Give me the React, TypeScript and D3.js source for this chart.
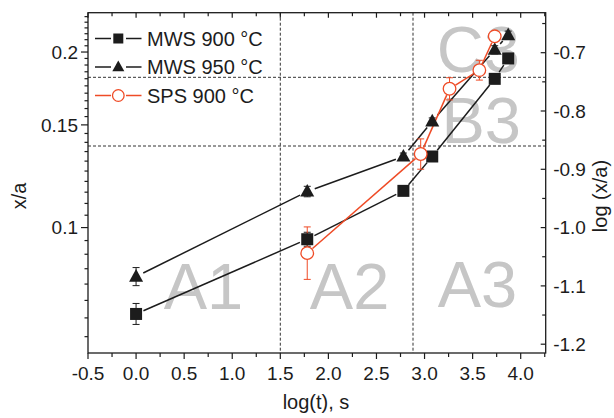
import React from "react";
import * as d3 from "d3";

// ---- data ----
const mws900X = [0, 1.78, 2.78, 3.08, 3.73, 3.87];
const mws900Y = [0.0711, 0.0955, 0.1156, 0.1324, 0.1799, 0.195];
const mws900Err = [0.018, 0.012, 0.005, 0.005, 0.005, 0.005]; // in log units

const mws950X = [0, 1.78, 2.78, 3.08, 3.73, 3.87];
const mws950Y = [0.0824, 0.1153, 0.1324, 0.1521, 0.2018, 0.2138];
const mws950Err = [0.0155, 0.009, 0.006, 0.006, 0.007, 0.007];

const spsX = [1.78, 2.96, 3.26, 3.57, 3.73];
const spsY = [0.0904, 0.1337, 0.173, 0.1862, 0.2128];
const spsErr = [0.045, 0.026, 0.019, 0.017, 0.007];

const legendLabels = ["MWS 900 \u00B0C", "MWS 950 \u00B0C", "SPS 900 \u00B0C"];

const xMajorTicks = [-0.5, 0, 0.5, 1, 1.5, 2, 2.5, 3, 3.5, 4];
const xMinorTicks = [-0.25, 0.25, 0.75, 1.25, 1.75, 2.25, 2.75, 3.25, 3.75, 4.25];
const leftMajorTicks = [0.1, 0.15, 0.2];
const leftTickLabels = ["0.1", "0.15", "0.2"];
const rightMajorTicks = [-1.2, -1.1, -1.0, -0.9, -0.8, -0.7];
const rightTickLabels = ["-1.2", "-1.1", "-1.0", "-0.9", "-0.8", "-0.7"];
const rightMinorTicks = [-1.15, -1.05, -0.95, -0.85, -0.75, -0.65];

const dashedX = [1.5, 2.88];
const dashedY = [0.181, 0.138];

const regionLabels = ["A1", "A2", "A3", "B3", "C3"];
const regionX = [0.7, 2.22, 3.55, 3.59, 3.56];
const regionY = [0.0725, 0.0725, 0.0731, 0.1395, 0.185];

const W = 614;
const H = 418;
const M = { left: 88, right: 545.7, top: 12.7, bottom: 353 };
const RED = "#ef4b26";
const DARK = "#1c1c1c";
const FONT = "'Liberation Sans', Arial, Helvetica, sans-serif";

export default function App() {
  const x = d3.scaleLinear().domain([-0.5, 4.26]).range([M.left, M.right]);
  const yL = d3.scaleLog().domain([0.06094, 0.2336]).range([M.bottom, M.top]);
  const yR = d3.scaleLinear().domain([-1.2151, -0.6314]).range([M.bottom, M.top]);

  // minor ticks on the log axis every 0.005
  const leftMinor: number[] = [];
  for (let k = 13; k <= 46; k++) {
    const v = k * 0.005;
    if (v < 0.061 || v > 0.2336) continue;
    if (leftMajorTicks.some((m) => Math.abs(m - v) < 1e-6)) continue;
    leftMinor.push(v);
  }

  const segs = (xs: number[], ys: number[], gap: number) => {
    const out: [number, number, number, number][] = [];
    for (let i = 0; i < xs.length - 1; i++) {
      const x1 = x(xs[i]), y1 = yL(ys[i]), x2 = x(xs[i + 1]), y2 = yL(ys[i + 1]);
      const dx = x2 - x1, dy = y2 - y1;
      const len = Math.hypot(dx, dy);
      if (len <= 2 * gap) continue;
      const ux = dx / len, uy = dy / len;
      out.push([x1 + ux * gap, y1 + uy * gap, x2 - ux * gap, y2 - uy * gap]);
    }
    return out;
  };

  const errBars = (xs: number[], ys: number[], errs: number[], color: string, key: string) =>
    xs.map((xv, i) => {
      const lv = Math.log10(ys[i]);
      const yt = yR(lv + errs[i]);
      const yb = yR(lv - errs[i]);
      const cx = x(xv);
      return (
        <g key={key + i} stroke={color} strokeWidth={1}>
          <line x1={cx} x2={cx} y1={yt} y2={yb} />
          <line x1={cx - 3.5} x2={cx + 3.5} y1={yt} y2={yt} />
          <line x1={cx - 3.5} x2={cx + 3.5} y1={yb} y2={yb} />
        </g>
      );
    });

  const square = (cx: number, cy: number, s: number, key: string) => (
    <rect key={key} x={cx - s / 2} y={cy - s / 2} width={s} height={s} fill={DARK} />
  );
  const triangle = (cx: number, cy: number, w: number, key: string) => {
    const h = w * 0.9;
    return (
      <path
        key={key}
        d={`M${cx},${cy - h * 0.6} L${cx + w / 2},${cy + h * 0.4} L${cx - w / 2},${cy + h * 0.4} Z`}
        fill={DARK}
      />
    );
  };
  const circle = (cx: number, cy: number, r: number, key: string) => (
    <circle key={key} cx={cx} cy={cy} r={r} fill="white" stroke={RED} strokeWidth={1.3} />
  );

  const legendRows = [38.5, 67, 95.5];

  return (
    <svg width={W} height={H} style={{ position: "absolute", left: 0, top: 0 }} fontFamily={FONT}>
      <rect width={W} height={H} fill="white" />

      {/* big gray region labels */}
      {regionLabels.map((t, i) => (
        <text
          key={t}
          x={x(regionX[i])}
          y={yL(regionY[i])}
          textAnchor="middle"
          fontSize={65}
          fill="#c6c6c6"
        >
          {t}
        </text>
      ))}

      {/* dashed guide lines */}
      {dashedX.map((v) => (
        <line key={"dx" + v} x1={x(v)} x2={x(v)} y1={M.top} y2={M.bottom} stroke="#333" strokeWidth={1} strokeDasharray="3,2" />
      ))}
      {dashedY.map((v) => (
        <line key={"dy" + v} x1={M.left} x2={M.right} y1={yL(v)} y2={yL(v)} stroke="#333" strokeWidth={1} strokeDasharray="3,2" />
      ))}

      {/* connecting lines */}
      {segs(mws900X, mws900Y, 8).map((s, i) => (
        <line key={"l9" + i} x1={s[0]} y1={s[1]} x2={s[2]} y2={s[3]} stroke={DARK} strokeWidth={1.5} />
      ))}
      {segs(mws950X, mws950Y, 8).map((s, i) => (
        <line key={"l5" + i} x1={s[0]} y1={s[1]} x2={s[2]} y2={s[3]} stroke={DARK} strokeWidth={1.5} />
      ))}
      {segs(spsX, spsY, 7).map((s, i) => (
        <line key={"ls" + i} x1={s[0]} y1={s[1]} x2={s[2]} y2={s[3]} stroke={RED} strokeWidth={1.5} />
      ))}

      {/* error bars */}
      {errBars(mws900X, mws900Y, mws900Err, DARK, "e9")}
      {errBars(mws950X, mws950Y, mws950Err, DARK, "e5")}
      {errBars(spsX, spsY, spsErr, RED, "es")}

      {/* markers */}
      {mws900X.map((v, i) => square(x(v), yL(mws900Y[i]), 12, "s" + i))}
      {mws950X.map((v, i) => triangle(x(v), yL(mws950Y[i]), 14, "t" + i))}
      {spsX.map((v, i) => circle(x(v), yL(spsY[i]), 6.3, "c" + i))}

      {/* frame */}
      <rect x={M.left} y={M.top} width={M.right - M.left} height={M.bottom - M.top} fill="none" stroke={DARK} strokeWidth={1.3} />

      {/* bottom ticks (outward) and top ticks (inward) */}
      {xMajorTicks.map((v) => (
        <g key={"xt" + v} stroke={DARK} strokeWidth={1.2}>
          <line x1={x(v)} x2={x(v)} y1={M.bottom} y2={M.bottom + 6} />
          <line x1={x(v)} x2={x(v)} y1={M.top} y2={M.top + 5} />
        </g>
      ))}
      {xMinorTicks.map((v) => (
        <g key={"xm" + v} stroke={DARK} strokeWidth={1.2}>
          <line x1={x(v)} x2={x(v)} y1={M.bottom} y2={M.bottom + 4} />
          <line x1={x(v)} x2={x(v)} y1={M.top} y2={M.top + 3.5} />
        </g>
      ))}
      {xMajorTicks.map((v) => (
        <text key={"xl" + v} x={x(v)} y={380} textAnchor="middle" fontSize={19} fill={DARK}>
          {v.toFixed(1)}
        </text>
      ))}

      {/* left log axis */}
      {leftMajorTicks.map((v, i) => (
        <g key={"yl" + v}>
          <line x1={M.left - 7} x2={M.left} y1={yL(v)} y2={yL(v)} stroke={DARK} strokeWidth={1.2} />
          <text x={M.left - 10} y={yL(v)} dy="0.35em" textAnchor="end" fontSize={19} fill={DARK}>
            {leftTickLabels[i]}
          </text>
        </g>
      ))}
      {leftMinor.map((v) => (
        <line key={"ylm" + v} x1={M.left - 3.5} x2={M.left} y1={yL(v)} y2={yL(v)} stroke={DARK} strokeWidth={1.2} />
      ))}

      {/* right linear (log values) axis, ticks inward */}
      {rightMajorTicks.map((v, i) => (
        <g key={"yr" + v}>
          <line x1={M.right - 5} x2={M.right} y1={yR(v)} y2={yR(v)} stroke={DARK} strokeWidth={1.2} />
          <text x={M.right + 7.5} y={yR(v)} dy="0.35em" textAnchor="start" fontSize={19} fill={DARK}>
            {rightTickLabels[i]}
          </text>
        </g>
      ))}
      {rightMinorTicks.map((v) => (
        <line key={"yrm" + v} x1={M.right - 3.5} x2={M.right} y1={yR(v)} y2={yR(v)} stroke={DARK} strokeWidth={1.2} />
      ))}

      {/* axis titles */}
      <text x={316} y={409} textAnchor="middle" fontSize={20} fill={DARK}>
        log(t), s
      </text>
      <text transform="translate(26,196) rotate(-90)" textAnchor="middle" fontSize={20} fill={DARK}>
        x/a
      </text>
      <text transform="translate(607,196) rotate(-90)" textAnchor="middle" fontSize={20} fill={DARK}>
        log (x/a)
      </text>

      {/* legend */}
      {legendRows.map((ly, i) => {
        const color = i === 2 ? RED : DARK;
        const cx = 118.3;
        return (
          <g key={"lg" + i}>
            <line x1={95} x2={111} y1={ly} y2={ly} stroke={color} strokeWidth={1.5} />
            <line x1={126} x2={141.5} y1={ly} y2={ly} stroke={color} strokeWidth={1.5} />
            {i === 0 && square(cx, ly, 10, "lgs")}
            {i === 1 && triangle(cx, ly, 12, "lgt")}
            {i === 2 && circle(cx, ly, 5.8, "lgc")}
            <text x={147} y={ly} dy="0.36em" fontSize={20} fill={DARK}>
              {legendLabels[i]}
            </text>
          </g>
        );
      })}
    </svg>
  );
}
